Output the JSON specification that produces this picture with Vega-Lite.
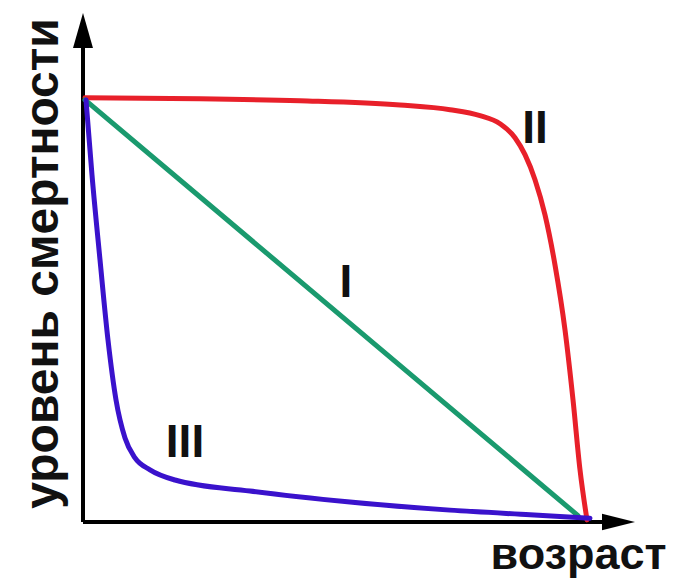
{
  "$schema": "https://vega.github.io/schema/vega-lite/v6.json",
  "width": 555,
  "height": 509,
  "autosize": {"type": "none"},
  "padding": {"left": 83, "top": 13, "right": 35, "bottom": 66},
  "background": "#ffffff",
  "config": {"view": {"stroke": null}},
  "datasets": {
    "curves": [
      {"curve": "II", "x": 0.4, "y": 100},
      {"curve": "II", "x": 23.4, "y": 99.8},
      {"curve": "II", "x": 43.4, "y": 99.3},
      {"curve": "II", "x": 63.4, "y": 98.3},
      {"curve": "II", "x": 73.4, "y": 97.2},
      {"curve": "II", "x": 79.4, "y": 95.8},
      {"curve": "II", "x": 83.4, "y": 93.9},
      {"curve": "II", "x": 86.4, "y": 90.6},
      {"curve": "II", "x": 88.4, "y": 86.6},
      {"curve": "II", "x": 90.4, "y": 80.7},
      {"curve": "II", "x": 92.4, "y": 72.4},
      {"curve": "II", "x": 94.4, "y": 60.6},
      {"curve": "II", "x": 96.4, "y": 45.3},
      {"curve": "II", "x": 98.0, "y": 28.8},
      {"curve": "II", "x": 99.4, "y": 12.3},
      {"curve": "II", "x": 100.8, "y": 0.5},
      {"curve": "I", "x": 0.4, "y": 99.5},
      {"curve": "I", "x": 99.0, "y": 1.5},
      {"curve": "III", "x": 0.6, "y": 99.5},
      {"curve": "III", "x": 1.8, "y": 81.8},
      {"curve": "III", "x": 3.4, "y": 61.8},
      {"curve": "III", "x": 5.0, "y": 42.9},
      {"curve": "III", "x": 6.6, "y": 28.8},
      {"curve": "III", "x": 8.4, "y": 19.8},
      {"curve": "III", "x": 10.4, "y": 15.1},
      {"curve": "III", "x": 13.4, "y": 12.3},
      {"curve": "III", "x": 18.4, "y": 9.9},
      {"curve": "III", "x": 33.4, "y": 7.3},
      {"curve": "III", "x": 53.4, "y": 4.7},
      {"curve": "III", "x": 73.4, "y": 2.8},
      {"curve": "III", "x": 89.4, "y": 1.7},
      {"curve": "III", "x": 101.4, "y": 0.9}
    ],
    "labels": [
      {"label": "II", "x": 90.4, "y": 89.4},
      {"label": "I", "x": 52.6, "y": 53.1},
      {"label": "III", "x": 20.4, "y": 15.3}
    ],
    "axes": [
      {"axis": "y", "x": 0, "y": 0, "x2": 0, "y2": 112},
      {"axis": "x", "x": 0, "y": 0, "x2": 104, "y2": 0}
    ],
    "tips": [
      {"axis": "y", "x": 0, "y": 120},
      {"axis": "x", "x": 110.4, "y": 0}
    ]
  },
  "layer": [
    {
      "data": {"name": "axes"},
      "mark": {"type": "rule", "color": "#000000", "strokeWidth": 4},
      "encoding": {
        "x": {
          "field": "x", "type": "quantitative",
          "scale": {"domain": [0, 111], "nice": false, "zero": false},
          "axis": {
            "domain": false, "ticks": false, "labels": false, "grid": false,
            "title": "возраст",
            "titleFont": "Liberation Sans", "titleFontWeight": "bold", "titleFontSize": 45,
            "titleColor": "#111111",
            "titleAnchor": null, "titleAlign": "right", "titleBaseline": "alphabetic",
            "titleX": 583, "titleY": 46
          }
        },
        "y": {
          "field": "y", "type": "quantitative",
          "scale": {"domain": [0, 120], "nice": false, "zero": false},
          "axis": {
            "domain": false, "ticks": false, "labels": false, "grid": false,
            "title": "уровень смертности",
            "titleFont": "Liberation Sans", "titleFontWeight": "bold", "titleFontSize": 48,
            "titleColor": "#111111",
            "titleAnchor": null, "titleAngle": -90, "titleAlign": "center", "titleBaseline": "alphabetic",
            "titleX": -26, "titleY": 250
          }
        },
        "x2": {"field": "x2"},
        "y2": {"field": "y2"}
      }
    },
    {
      "data": {"name": "tips"},
      "transform": [{"filter": "datum.axis === 'y'"}],
      "mark": {"type": "point", "shape": "M0,0L-0.57,2L0.57,2Z", "filled": true, "color": "#000000", "opacity": 1, "size": 1225, "strokeWidth": 0},
      "encoding": {
        "x": {"field": "x", "type": "quantitative"},
        "y": {"field": "y", "type": "quantitative"}
      }
    },
    {
      "data": {"name": "tips"},
      "transform": [{"filter": "datum.axis === 'x'"}],
      "mark": {"type": "point", "shape": "M0,0L-2,-0.5L-2,0.5Z", "filled": true, "color": "#000000", "opacity": 1, "size": 1089, "strokeWidth": 0},
      "encoding": {
        "x": {"field": "x", "type": "quantitative"},
        "y": {"field": "y", "type": "quantitative"}
      }
    },
    {
      "data": {"name": "curves"},
      "transform": [{"filter": "datum.curve === 'II'"}],
      "mark": {"type": "line", "color": "#e8202a", "strokeWidth": 5, "interpolate": "monotone", "strokeCap": "round"},
      "encoding": {
        "x": {"field": "x", "type": "quantitative"},
        "y": {"field": "y", "type": "quantitative"}
      }
    },
    {
      "data": {"name": "curves"},
      "transform": [{"filter": "datum.curve === 'I'"}],
      "mark": {"type": "line", "color": "#1a9a6e", "strokeWidth": 5, "strokeCap": "round"},
      "encoding": {
        "x": {"field": "x", "type": "quantitative"},
        "y": {"field": "y", "type": "quantitative"}
      }
    },
    {
      "data": {"name": "curves"},
      "transform": [{"filter": "datum.curve === 'III'"}],
      "mark": {"type": "line", "color": "#3a12cc", "strokeWidth": 5, "interpolate": "monotone", "strokeCap": "round"},
      "encoding": {
        "x": {"field": "x", "type": "quantitative"},
        "y": {"field": "y", "type": "quantitative"}
      }
    },
    {
      "data": {"name": "labels"},
      "mark": {"type": "text", "font": "Liberation Sans", "fontWeight": "bold", "fontSize": 46, "color": "#111111", "align": "center", "baseline": "alphabetic"},
      "encoding": {
        "x": {"field": "x", "type": "quantitative"},
        "y": {"field": "y", "type": "quantitative"},
        "text": {"field": "label"}
      }
    }
  ]
}
